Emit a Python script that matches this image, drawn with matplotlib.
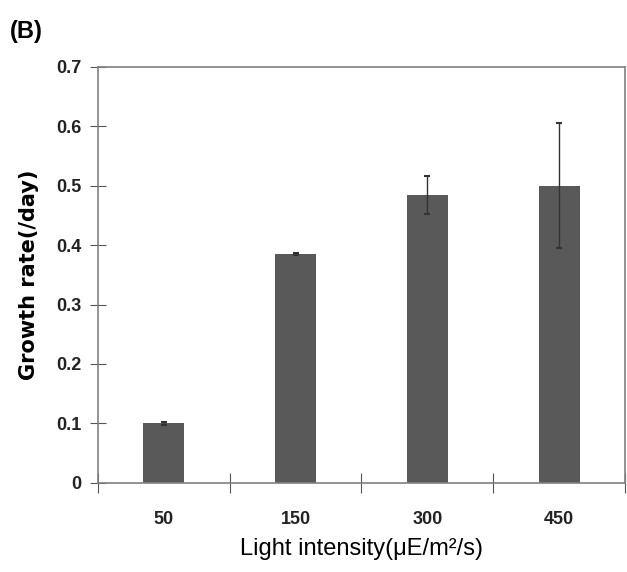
import numpy as np
import matplotlib
matplotlib.use("Agg")
import matplotlib.pyplot as plt

plt.rcParams['font.family'] = ['Liberation Sans Narrow', 'Liberation Sans', 'DejaVu Sans']

intensity = ["50", "150", "300", "450"]
growth = [0.100, 0.385, 0.485, 0.500]
err = [0.002, 0.002, 0.032, 0.105]
yticks = [0, 0.1, 0.2, 0.3, 0.4, 0.5, 0.6, 0.7]

fig = plt.figure(figsize=(6.27, 5.72), dpi=100)
ax = fig.add_axes([0.156, 0.156, 0.841, 0.727])

x = np.arange(len(intensity))
ax.bar(x, growth, width=0.31, color="#595959", zorder=2)
ax.errorbar(x, growth, yerr=err, fmt="none", ecolor="#333333",
            elinewidth=1.0, capsize=2, capthick=1.5, zorder=3)

ax.set_xlim(-0.5, len(intensity) - 0.5)
ax.set_ylim(0, 0.7)
ax.set_yticks(yticks)
ax.set_yticklabels(["0"] + [f"{v:.1f}" for v in yticks[1:]])

# category boundaries get the tick marks, centres get the labels
ax.set_xticks(np.arange(len(intensity) + 1) - 0.5)
ax.set_xticklabels([])
ax.set_xticks(x, minor=True)
ax.set_xticklabels(intensity, minor=True)
ax.tick_params(axis="x", which="minor", length=0, pad=20)
ax.tick_params(axis="x", which="major", direction="inout", length=14, color="#555555")
ax.tick_params(axis="y", direction="inout", length=12, color="#555555", pad=6)

for lab in ax.get_xticklabels(minor=True) + ax.get_yticklabels():
    lab.set_fontsize(13)
    lab.set_fontweight("bold")
    lab.set_color("#222222")

for s in ax.spines.values():
    s.set_color("#808080")
    s.set_linewidth(1.2)

ax.set_ylabel("Growth rate(/day)", fontsize=15, fontweight="bold",
              family=["DejaVu Sans"], labelpad=12)
ax.set_xlabel("Light intensity(\u03bcE/m\u00b2/s)", fontsize=17)
ax.xaxis.set_label_coords(0.5, -0.133)

fig.text(0.015, 0.965, "(B)", fontsize=17, fontweight="bold",
         family=["Liberation Sans", "DejaVu Sans"], va="top")

fig.savefig("out.png", dpi=100)
